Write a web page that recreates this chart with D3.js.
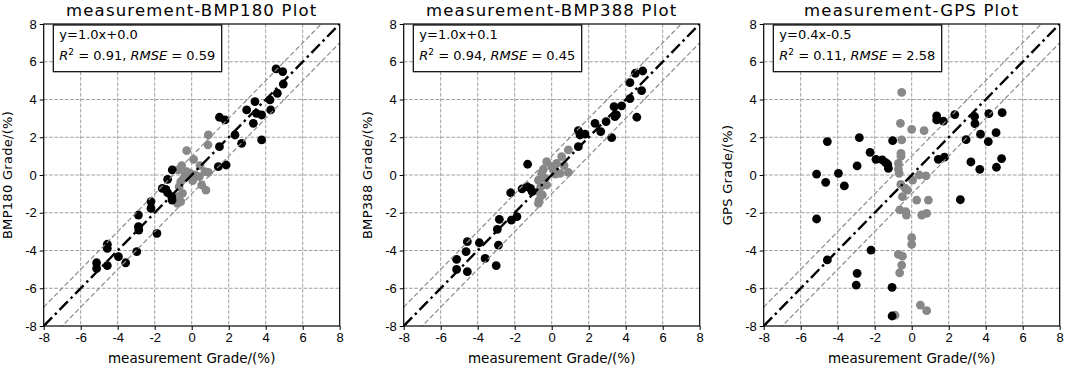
<!DOCTYPE html>
<html>
<head>
<meta charset="utf-8">
<script src="https://cdn.jsdelivr.net/npm/d3@7"></script>
<style>
  body { margin: 0; background: #fff; }
  svg { display: block; font-family: "DejaVu Sans", sans-serif; }
</style>
</head>
<body>
<div id="chart"></div>
<script>
// tick values and panel texts
var tickValues = [-8, -6, -4, -2, 0, 2, 4, 6, 8];
var panelTitles = ["measurement-BMP180 Plot", "measurement-BMP388 Plot", "measurement-GPS Plot"];
var yLabels = ["BMP180 Grade/(%)", "BMP388 Grade/(%)", "GPS Grade/(%)"];
var xLabel = "measurement Grade/(%)";
var fitEquations = ["y=1.0x+0.0", "y=1.0x+0.1", "y=0.4x-0.5"];
var r2Values = ["0.91", "0.94", "0.11"];
var rmseValues = ["0.59", "0.45", "2.58"];
var refOffsets = [-1, 0, 1];

var bmp180Gray = [[0.9,2.12],[0.88,1.6],[-0.27,1.29],[-0.54,0.5],[-0.72,0.27],[-0.27,0.18],[0.1,0.83],[0.45,0.5],
  [0.72,0.18],[0.9,0.14],[0.18,0],[0.41,-0.09],[0.54,-0.53],[0.77,-0.8],[-0.59,-0.35],[-0.68,-0.62],
  [-0.5,-0.97],[-0.72,-1.15],[-0.59,-1.41],[-0.77,-1.5],[-0.36,0],[-0.09,0.09],[-0.45,-0.2],[0.05,-0.3]];
var bmp180Black = [[-5.14,-4.65],[-5.14,-4.95],[-4.56,-3.67],[-4.56,-3.89],[-4.56,-4.8],[-3.96,-4.33],[-3.57,-4.65],
  [-2.88,-2.12],[-2.88,-2.74],[-2.86,-2.92],[-2.97,-4.06],[-2.2,-1.41],[-2.2,-1.77],[-1.88,-3.09],
  [-1.59,-0.71],[-1.4,-0.76],[-1.3,-0.94],[-1.05,0.27],[-1.08,-1.15],[-1.06,-1.33],[-1.3,-0.23],
  [1.44,0.44],[1.86,0.53],[1.5,1.5],[1.5,3.06],[1.8,2.92],[2.34,2.12],[2.7,1.68],[2.97,3.45],
  [3.33,2.74],[3.42,3.89],[3.5,3.27],[3.78,3.18],[3.78,1.86],[4.23,3.98],[4.27,3.45],[4.56,5.62],
  [4.92,5.48],[4.63,4.33],[4.95,4.82]];

var bmp388Gray = [[0.9,1.33],[0.54,0.97],[0.27,0.62],[-0.27,0.71],[0,0.44],[0.67,0.5],[0.9,0.14],[-0.54,0.09],
  [-0.72,-0.27],[-0.36,-0.18],[-0.27,-0.53],[-0.59,-0.62],[-0.72,-0.88],[-0.5,-1.06],[-0.68,-1.33],
  [-0.72,-1.5],[0.09,0.27],[0.45,0.09],[-0.45,0.3],[0.2,0.05]];
var bmp388Black = [[-5.14,-4.47],[-5.14,-5.0],[-4.56,-3.53],[-4.63,-4.06],[-4.56,-5.12],[-3.91,-3.59],[-3.6,-4.42],
  [-2.83,-2.35],[-2.94,-2.88],[-2.88,-3.71],[-3.0,-4.8],[-2.22,-0.94],[-2.18,-2.39],[-1.88,-2.21],
  [-1.3,0.57],[-1.6,-0.74],[-1.33,-0.62],[-1.15,-0.71],[-1.06,-0.88],[1.44,1.5],[1.44,2.35],
  [1.53,2.12],[1.8,2.17],[2.34,2.74],[2.65,2.3],[2.94,2.83],[3.24,1.98],[3.37,3.62],[3.42,3.09],
  [3.5,3.18],[3.78,3.66],[4.23,4.05],[4.23,4.89],[4.6,3.06],[4.52,5.39],[4.92,5.51],[4.86,4.47]];

var gpsGray = [[-0.54,4.38],[-0.61,2.74],[0.0,2.42],[0.67,2.35],[-0.54,1.86],[-0.58,1.15],[-0.58,1.0],
  [-0.72,0.62],[-0.72,0.3],[-0.68,0.09],[-0.59,-0.5],[-0.36,-0.7],[-0.23,-0.8],[0.05,-0.27],[0.41,0.0],
  [0.77,-0.05],[-0.5,-1.15],[-0.64,-1.85],[-0.32,-1.94],[-0.29,-2.12],[0.27,-1.33],[0.54,-2.12],
  [0.81,-2.03],[0.9,-1.33],[0.0,-3.32],[0.0,-3.67],[-0.72,-4.2],[-0.5,-4.3],[-0.54,-4.77],
  [-0.65,-5.18],[0.47,-6.89],[0.81,-7.19],[-0.9,-7.43]];
var gpsBlack = [[-5.14,0.05],[-5.14,-2.33],[-4.56,1.77],[-4.65,-0.39],[-4.56,-4.5],[-3.96,0.09],[-3.64,-0.58],
  [-2.83,1.98],[-2.95,0.48],[-2.95,-5.21],[-3.0,-5.83],[-2.25,1.2],[-2.2,-3.98],[-1.93,0.83],
  [-1.59,0.8],[-1.41,0.65],[-1.3,0.57],[-1.26,0.35],[-1.03,1.82],[-1.06,-5.95],[-1.06,-7.47],
  [1.35,3.13],[1.35,2.92],[1.71,2.85],[1.44,0.83],[1.77,0.95],[2.33,3.2],[2.63,-1.31],[2.94,1.87],
  [3.2,0.69],[3.4,3.1],[3.42,2.72],[3.68,0.3],[3.72,2.16],[4.17,3.25],[4.14,1.77],[4.56,2.24],
  [4.58,0.41],[4.89,3.3],[4.86,0.87]];

var grayPoints = [bmp180Gray, bmp388Gray, gpsGray];
var blackPoints = [bmp180Black, bmp388Black, gpsBlack];

// layout
var W = 1065, H = 370;
var plotW = 296, plotH = 302, left0 = 43.7, top0 = 24, panelStep = 360;

var svg = d3.select("#chart").append("svg")
    .attr("width", W)
    .attr("height", H);

var x = d3.scaleLinear().domain([-8, 8]).range([0, plotW]);
var y = d3.scaleLinear().domain([-8, 8]).range([plotH, 0]);

svg.append("defs").append("clipPath")
    .attr("id", "plotClip")
  .append("rect")
    .attr("width", plotW)
    .attr("height", plotH);

panelTitles.forEach(function(title, i) {
  var g = svg.append("g")
      .attr("transform", `translate(${left0 + i * panelStep},${top0})`);

  // grid
  g.append("g").selectAll("line.gx")
    .data(tickValues.slice(1, -1))
    .join("line")
      .attr("x1", d => x(d)).attr("x2", d => x(d))
      .attr("y1", 0).attr("y2", plotH)
      .attr("stroke", "#a0a0a0").attr("stroke-width", 1)
      .attr("stroke-dasharray", "3.7,1.6");
  g.append("g").selectAll("line.gy")
    .data(tickValues.slice(1, -1))
    .join("line")
      .attr("y1", d => y(d)).attr("y2", d => y(d))
      .attr("x1", 0).attr("x2", plotW)
      .attr("stroke", "#a0a0a0").attr("stroke-width", 1)
      .attr("stroke-dasharray", "3.7,1.6");

  var plot = g.append("g").attr("clip-path", "url(#plotClip)");

  // scatter
  plot.append("g").selectAll("circle")
    .data(grayPoints[i])
    .join("circle")
      .attr("cx", d => x(d[0]))
      .attr("cy", d => y(d[1]))
      .attr("r", 4.4)
      .attr("fill", "#888888");
  plot.append("g").selectAll("circle")
    .data(blackPoints[i])
    .join("circle")
      .attr("cx", d => x(d[0]))
      .attr("cy", d => y(d[1]))
      .attr("r", 4.4)
      .attr("fill", "#000");

  // 1:1 line and +-1 band
  plot.selectAll("line.ref")
    .data(refOffsets)
    .join("line")
      .attr("x1", x(-8)).attr("y1", d => y(-8 + d))
      .attr("x2", x(8)).attr("y2", d => y(8 + d))
      .attr("stroke", d => d === 0 ? "#000" : "#8c8c8c")
      .attr("stroke-width", d => d === 0 ? 2.4 : 1.2)
      .attr("stroke-dasharray", d => d === 0 ? "12,4,2.5,4" : "5,2.5");

  // frame
  g.append("rect")
      .attr("width", plotW).attr("height", plotH)
      .attr("fill", "none").attr("stroke", "#000").attr("stroke-width", 1.2);

  // axes
  var xAxis = g.append("g")
      .attr("transform", `translate(0,${plotH})`)
      .call(d3.axisBottom(x).tickValues(tickValues).tickSize(4).tickPadding(3).tickFormat(d => String(d)));
  var yAxis = g.append("g")
      .call(d3.axisLeft(y).tickValues(tickValues).tickSize(4).tickPadding(3).tickFormat(d => String(d)));
  [xAxis, yAxis].forEach(function(a) {
    a.select(".domain").remove();
    a.selectAll("line").attr("stroke", "#000").attr("stroke-width", 1);
    a.selectAll("text").style("font-size", "13px").attr("fill", "#000");
  });

  // title and axis labels
  g.append("text")
      .attr("x", plotW / 2).attr("y", -8)
      .attr("text-anchor", "middle")
      .style("font-size", "16.5px")
      .style("letter-spacing", "1.2px")
      .text(title);
  g.append("text")
      .attr("x", plotW / 2).attr("y", plotH + 37)
      .attr("text-anchor", "middle")
      .style("font-size", "13.5px")
      .text(xLabel);
  g.append("text")
      .attr("transform", `translate(-32,${plotH / 2}) rotate(-90)`)
      .attr("text-anchor", "middle")
      .style("font-size", "13px")
      .style("letter-spacing", "0.3px")
      .text(yLabels[i]);

  // stats box
  var box = g.append("g").attr("transform", "translate(9.6,1)");
  box.append("rect")
      .attr("width", 168.4).attr("height", 46.7)
      .attr("fill", "#fff").attr("stroke", "#000").attr("stroke-width", 1.2);
  box.append("text")
      .attr("x", 6).attr("y", 14)
      .style("font-size", "13px")
      .text(fitEquations[i]);
  var t2 = box.append("text")
      .attr("x", 6).attr("y", 35)
      .style("font-size", "13px");
  t2.append("tspan").style("font-style", "italic").text("R");
  t2.append("tspan").attr("dy", -5).style("font-size", "9px").text("2");
  t2.append("tspan").attr("dy", 5).text(" = " + r2Values[i] + ", ");
  t2.append("tspan").style("font-style", "italic").text("RMSE");
  t2.append("tspan").text(" = " + rmseValues[i]);
});
</script>
</body>
</html>
